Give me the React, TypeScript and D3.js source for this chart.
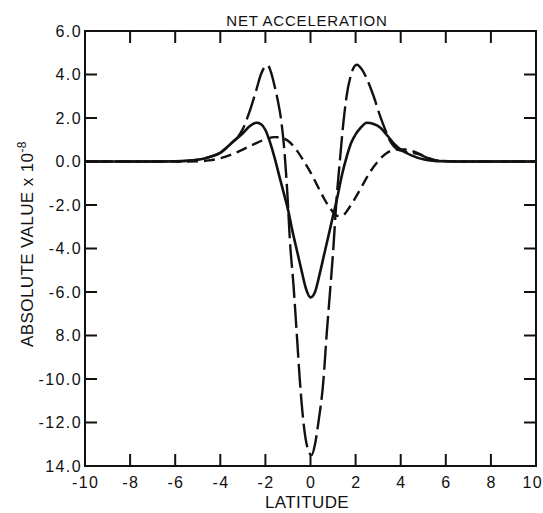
import React from "react";
import * as d3 from "d3";

const W = 543;
const H = 513;

const xTicks = [-10, -8, -6, -4, -2, 0, 2, 4, 6, 8, 10];
const xTickLabels = ["-10", "-8", "-6", "-4", "-2", "0", "2", "4", "6", "8", "10"];
const yTicks = [6, 4, 2, 0, -2, -4, -6, -8, -10, -12, -14];
const yTickLabels = ["6.0", "4.0", "2.0", "0.0", "-2.0", "-4.0", "-6.0", "8.0", "-10.0", "-12.0", "14.0"];

// solid curve
const solidCurve: [number, number][] = [
  [-10, 0], [-7, 0], [-6, 0.01], [-5.5, 0.03], [-5, 0.08], [-4.5, 0.2], [-4, 0.4], [-3.5, 0.85],
  [-3, 1.3], [-2.7, 1.62], [-2.4, 1.78], [-2.2, 1.72], [-2.0, 1.45], [-1.8, 0.9], [-1.6, 0.2],
  [-1.4, -0.6], [-1.2, -1.4], [-1.0, -2.2], [-0.8, -3.2], [-0.6, -4.1], [-0.4, -5.0],
  [-0.2, -5.85], [0, -6.25], [0.2, -6.0], [0.4, -5.2], [0.6, -4.3], [0.8, -3.4], [1.0, -2.5],
  [1.2, -1.6], [1.4, -0.6], [1.6, 0.2], [1.8, 0.85], [2.0, 1.25], [2.2, 1.52], [2.5, 1.78],
  [2.8, 1.72], [3.1, 1.55], [3.4, 1.2], [3.7, 0.82], [4.0, 0.55], [4.5, 0.27], [5.0, 0.1],
  [5.5, 0.03], [6, 0.01], [7, 0], [10, 0],
];

// long-dashed curve
const longDashCurve: [number, number][] = [
  [-10, 0], [-7, 0], [-6, 0.01], [-5.5, 0.03], [-5, 0.08], [-4.5, 0.2], [-4, 0.4], [-3.5, 0.85],
  [-3.2, 1.15], [-3.0, 1.5], [-2.7, 2.3], [-2.4, 3.3], [-2.2, 4.0], [-2.0, 4.38], [-1.9, 4.42],
  [-1.75, 4.1], [-1.6, 3.5], [-1.45, 2.8], [-1.3, 1.9], [-1.15, 0.4], [-1.03, -1.4],
  [-0.91, -3.7], [-0.76, -5.6], [-0.61, -7.9], [-0.47, -10.1], [-0.3, -12.1], [-0.15, -13.1],
  [0.05, -13.5], [0.2, -13.0], [0.35, -12.0], [0.57, -10.1], [0.72, -7.9], [0.85, -6.2],
  [1.0, -4.2], [1.15, -1.8], [1.3, 0.0], [1.45, 1.7], [1.6, 3.0], [1.8, 4.0], [2.05, 4.45],
  [2.3, 4.2], [2.5, 3.8], [2.8, 3.0], [3.1, 2.05], [3.3, 1.5], [3.5, 1.0], [3.8, 0.6],
  [4.2, 0.45], [4.7, 0.36], [5.0, 0.25], [5.3, 0.12], [5.7, 0.03], [6.2, 0.01], [7, 0], [10, 0],
];

// short-dashed curve
const shortDashCurve: [number, number][] = [
  [-10, 0], [-6, 0], [-5, 0.01], [-4.5, 0.05], [-4, 0.15], [-3.5, 0.32], [-3, 0.55], [-2.5, 0.8],
  [-2.0, 1.02], [-1.6, 1.12], [-1.3, 1.1], [-1.0, 0.95], [-0.6, 0.5], [-0.3, 0.02], [0, -0.5],
  [0.3, -1.1], [0.6, -1.7], [0.9, -2.2], [1.2, -2.5], [1.4, -2.5], [1.7, -2.15], [2.0, -1.65],
  [2.3, -1.1], [2.6, -0.55], [3.0, 0.02], [3.4, 0.4], [3.8, 0.55], [4.2, 0.55], [4.6, 0.45],
  [5.0, 0.27], [5.4, 0.1], [5.8, 0.03], [6.5, 0], [10, 0],
];

const FONT = "'Liberation Sans', Arial, sans-serif";

export default function App() {
  const left = 85;
  const right = 536;
  const top = 31;
  const bottom = 466;
  const x = d3.scaleLinear().domain([-10, 10]).range([left, right]);
  const y = d3.scaleLinear().domain([6, -14]).range([top, bottom]);
  const line = d3
    .line<[number, number]>()
    .x((d) => x(d[0]))
    .y((d) => y(d[1]))
    .curve(d3.curveMonotoneX);
  const tick = 12;
  const innerX = xTicks.slice(1, -1);
  const innerY = yTicks.slice(1, -1);
  return (
    <svg width={W} height={H} style={{ position: "absolute", left: 0, top: 0, background: "#fff" }}>
      <rect x={0} y={0} width={W} height={H} fill="#fff" />
      <g fill="none" stroke="#111" strokeLinejoin="round" strokeLinecap="butt">
        <path d={line(shortDashCurve) || ""} strokeWidth={2.4} strokeDasharray="11 6" />
        <path d={line(longDashCurve) || ""} strokeWidth={2.4} strokeDasharray="24 6" />
        <path d={line(solidCurve) || ""} strokeWidth={2.6} />
      </g>
      <g stroke="#111" strokeWidth={2}>
        <rect x={left} y={top} width={right - left} height={bottom - top} fill="none" />
        {innerX.map((t) => (
          <g key={"xt" + t}>
            <line x1={x(t)} x2={x(t)} y1={bottom} y2={bottom - tick} />
            <line x1={x(t)} x2={x(t)} y1={top} y2={top + tick} />
          </g>
        ))}
        {innerY.map((t) => (
          <g key={"yt" + t}>
            <line x1={left} x2={left + tick} y1={y(t)} y2={y(t)} />
            <line x1={right} x2={right - tick} y1={y(t)} y2={y(t)} />
          </g>
        ))}
      </g>
      <g fontFamily={FONT} fill="#111">
        {xTicks.map((t, i) => (
          <text
            key={"xl" + t}
            x={t === 10 ? 543 : x(t) + 0.7}
            y={488}
            fontSize={16}
            letterSpacing={1.4}
            textAnchor={t === 10 ? "end" : "middle"}
          >
            {xTickLabels[i]}
          </text>
        ))}
        {yTicks.map((t, i) => (
          <text key={"yl" + t} x={82} y={y(t)} dy="0.36em" fontSize={16} letterSpacing={1.4} textAnchor="end">
            {yTickLabels[i]}
          </text>
        ))}
        <text x={307} y={26} fontSize={15} textAnchor="middle" letterSpacing={0.8}>
          NET ACCELERATION
        </text>
        <text x={307} y={508} fontSize={17} textAnchor="middle" letterSpacing={0.4}>
          LATITUDE
        </text>
        <text transform="translate(33,244) rotate(-90)" fontSize={17} textAnchor="middle" letterSpacing={0.4}>
          ABSOLUTE VALUE x 10
          <tspan fontSize={12} dy={-7}>-8</tspan>
        </text>
      </g>
    </svg>
  );
}
